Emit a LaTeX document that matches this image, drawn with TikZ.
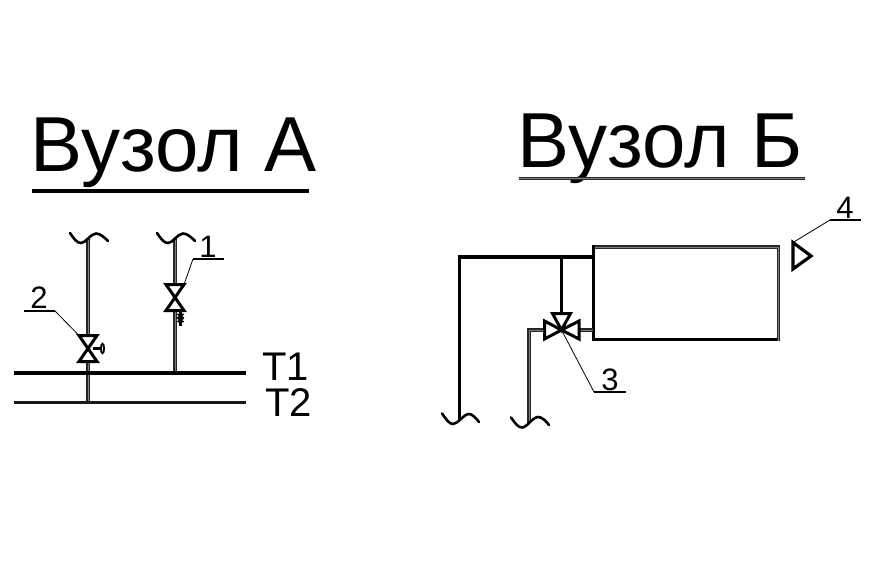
\documentclass[tikz,border=0pt]{standalone}
\usepackage{fontspec}
\setmainfont{Liberation Sans}
\tikzset{
  pipegray/.style={line width=1.3pt,draw=black!85,double=black!50,double distance=0.9pt},
  main/.style={line width=3.2pt,draw=black},
  mainthin/.style={line width=3pt,draw=black!90},
  valve/.style={line width=3pt,draw=black,line join=miter},
  leader/.style={line width=0.8pt,draw=black},
  shelf/.style={line width=1.2pt,draw=black},
  wave/.style={line width=2.6pt,draw=black,line cap=round},
  title/.style={font=\fontsize{78}{78}\selectfont,anchor=base west,inner sep=0pt},
  tlabel/.style={font=\fontsize{40}{40}\selectfont,anchor=base west,inner sep=0pt},
  num/.style={font=\fontsize{31}{31}\selectfont,anchor=base,inner sep=0pt}
}
\begin{document}
\begin{tikzpicture}[x=1pt,y=-1pt]
\useasboundingbox (0,0) rectangle (869,575);
% titles
\node[title] (ta) at (30.5,171) {Вузол А};
\node[title] (tb) at (517.5,167.5) {Вузол Б};
\coordinate (ua1) at (32,191); \coordinate (ua2) at (309,191);
\draw[line width=3.2pt] (ua1) -- (ua2);
\coordinate (ub1) at (519,178.5); \coordinate (ub2) at (805,178.5);
\draw[pipegray] (ub1) -- (ub2);
% mains
\coordinate (t1a) at (14,373); \coordinate (t1b) at (246,373);
\coordinate (t2a) at (14,402); \coordinate (t2b) at (246,402);
\node[tlabel] (T1) at (262,380) {T1};
\node[tlabel] (T2) at (265,416) {T2};
% risers
\coordinate (p2top) at (88,238); \coordinate (v2) at (88,348.5); \coordinate (p2bot) at (88,402);
\coordinate (p1top) at (175,238); \coordinate (v1) at (175,297.5); \coordinate (p1bot) at (175,373);
\draw[pipegray] (p2top) -- (p2bot);
\draw[pipegray] (p1top) -- (p1bot);
\draw[main] (t1a) -- (t1b);
\draw[mainthin] (t2a) -- (t2b);
% valve 2
\draw[valve,fill=white] (79,335.5) -- (97,335.5) -- (79,361.5) -- (97,361.5) -- cycle;
\draw[line width=3pt] (93,348.5) -- (103,348.5);
\draw[line width=1.8pt,fill=white] (102.5,348.5) ellipse (1.6 and 4.8);
% valve 1
\draw[valve,fill=white] (166,284.5) -- (184,284.5) -- (166,310.5) -- (184,310.5) -- cycle;
\draw[line width=2.2pt] (180.5,312) -- (180.5,326);
\draw[line width=1.8pt] (177.5,314) -- (183.5,318) (183.5,314) -- (177.5,318)
  (177.5,318) -- (183.5,322) (183.5,318) -- (177.5,322);
% breaks
\draw[wave] (70,233) .. controls (74,239) and (77,243) .. (81,243) .. controls (86,243) and (90,234) .. (96,233.5) .. controls (100,233.5) and (104,237) .. (108,241);
\draw[wave] (157,233) .. controls (161,239) and (164,243) .. (168,243) .. controls (173,243) and (177,234) .. (183,233.5) .. controls (187,233.5) and (191,237) .. (195,241);
% leaders left
\coordinate (l2a) at (24,311); \coordinate (l2b) at (55,311); \coordinate (l2c) at (79,335.5);
\draw[shelf] (l2a) -- (l2b); \draw[leader] (l2b) -- (l2c);
\node[num] (n2) at (39,308) {2};
\coordinate (l1a) at (224,259); \coordinate (l1b) at (193,259); \coordinate (l1c) at (184,284.5);
\draw[shelf] (l1a) -- (l1b); \draw[leader] (l1b) -- (l1c);
\node[num] (n1) at (208,257) {1};
% radiator
\draw[line width=3.2pt,draw=black] (593.5,339.5) -- (778.5,339.5);
\draw[pipegray] (778.5,341) -- (778.5,247) -- (593.5,247);
\draw[line width=3.2pt] (593.5,245.4) -- (593.5,341);
% pipes
\coordinate (r1) at (593,257); \coordinate (r2) at (459.5,257); \coordinate (r3) at (459.5,420);
\draw[line width=3.2pt] (r1) -- (r2) -- (r3);
\coordinate (v3) at (561.5,330); \coordinate (rb) at (561.5,257);
\draw[line width=3.4pt] (rb) -- (561.5,313);
\coordinate (s1) at (544,330); \coordinate (s2) at (529,330); \coordinate (s3) at (529,423);
\draw[pipegray] (s1) -- (s2) -- (s3);
\draw[pipegray] (579,330) -- (593,330);
% three-way valve
\draw[valve,fill=white] (v3) -- (552.5,313.5) -- (570.5,313.5) -- cycle;
\draw[valve,fill=white] (v3) -- (544.5,321) -- (544.5,339) -- cycle;
\draw[valve,fill=white] (v3) -- (579,321) -- (579,339) -- cycle;
% breaks right
\draw[wave] (442,413.5) .. controls (446,419) and (449,424) .. (453,424) .. controls (458,424) and (463,414.5) .. (469,414) .. controls (472,414) and (476,418) .. (479,422);
\draw[wave] (511,417.5) .. controls (515,423) and (518,427.5) .. (522,427.5) .. controls (527,427.5) and (532,417.5) .. (538,417) .. controls (542,417) and (546,421) .. (549,425);
% leader 3
\coordinate (l3b) at (594,392); \coordinate (l3c) at (626,392);
\draw[leader] (v3) -- (l3b); \draw[shelf] (l3b) -- (l3c);
\node[num] (n3) at (610,390) {3};
% symbol 4
\coordinate (s4a) at (793,242.5); \coordinate (s4b) at (793,269); \coordinate (s4c) at (811,256);
\draw[line width=3.2pt,line join=miter,fill=white] (s4a) -- (s4c) -- (s4b) -- cycle;
\coordinate (l4b) at (830,220); \coordinate (l4c) at (861,220);
\draw[leader] (s4a) -- (l4b); \draw[shelf] (l4b) -- (l4c);
\node[num] (n4) at (845,218) {4};
\end{tikzpicture}
\end{document}
